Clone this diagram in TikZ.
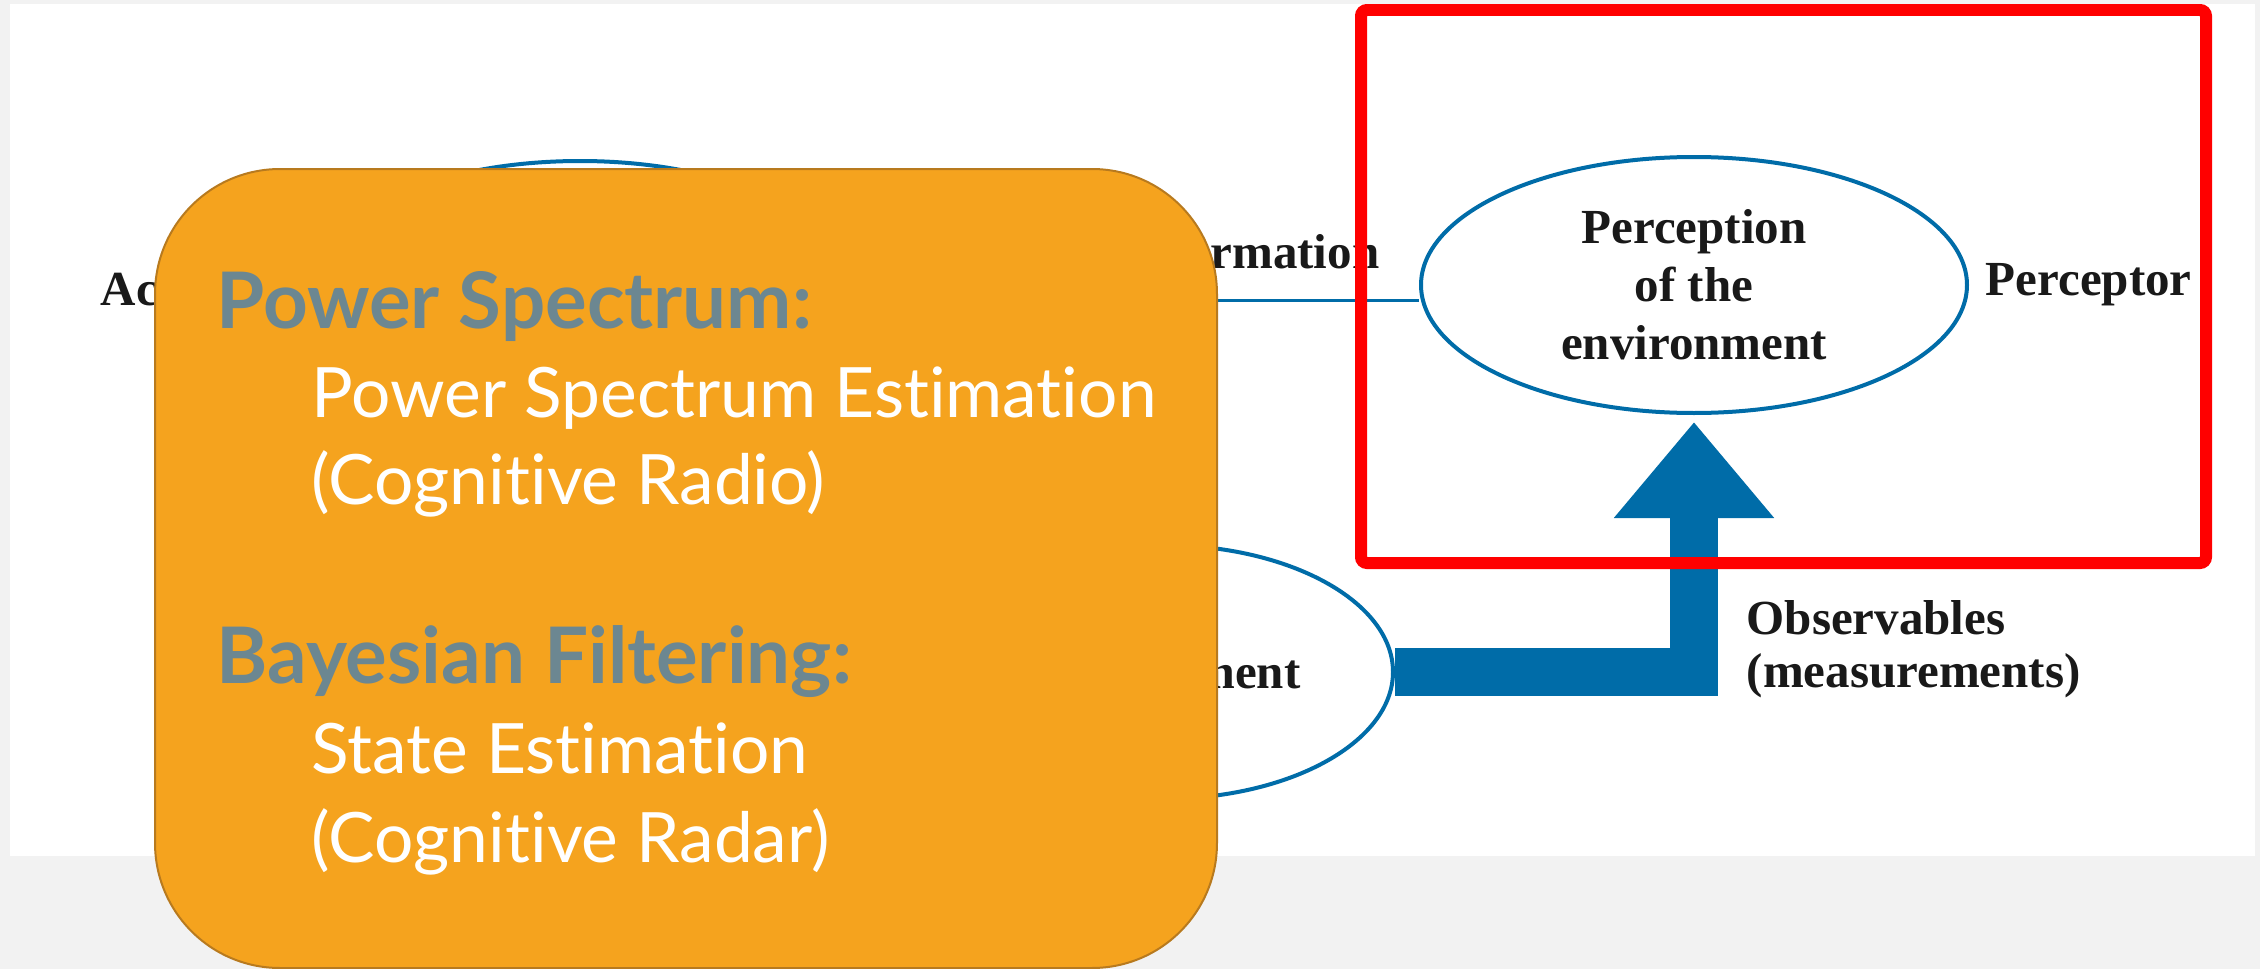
\documentclass[tikz,border=0pt]{standalone}
\usepackage{fontspec}
\setmainfont{Liberation Serif}
\newfontfamily\cardfont[Ligatures={NoCommon,NoRare}]{Lato}
\usetikzlibrary{arrows.meta, positioning, shapes.geometric}
\definecolor{pageGray}{RGB}{242,242,242}
\definecolor{figBlue}{RGB}{0,108,168}
\definecolor{frameRed}{RGB}{255,0,0}
\definecolor{cardOrange}{RGB}{245,163,30}
\definecolor{cardEdge}{RGB}{184,122,30}
\definecolor{headGray}{RGB}{108,135,145}

\begin{document}
\begin{tikzpicture}[
  x=0.1mm, y=-0.1mm,
  oval/.style={ellipse, draw=figBlue, line width=0.4mm, inner sep=0pt, align=center, text=black!90, font=\bfseries\fontsize{4.9mm}{5.8mm}\selectfont},
  lbl/.style={inner sep=0pt, text=black!90, font=\bfseries\fontsize{4.9mm}{5.3mm}\selectfont},
  link/.style={draw=figBlue, line width=0.3mm},
  obs/.style={draw=figBlue, line width=4.8mm, shorten >=0.7mm, -{Triangle[width=15.4mm, length=9.6mm]}},
  frame/.style={draw=frameRed, line width=1.2mm, rounded corners=0.6mm},
  card/.style={rectangle, draw=cardEdge, fill=cardOrange, line width=0.2mm, rounded corners=12.5mm, minimum width=106.2mm, minimum height=79.9mm},
  head/.style={anchor=base west, inner sep=0pt, text=headGray, font=\cardfont\bfseries\fontsize{7.8mm}{8.9mm}\selectfont},
  item/.style={anchor=base west, inner sep=0pt, text=white, font=\cardfont\fontsize{6.95mm}{8.9mm}\selectfont}
]
\useasboundingbox (0,0) rectangle (2260,969);
\fill[pageGray] (0,0) rectangle (2260,969);
\fill[white] (10,4) rectangle (2255,856);

\node[oval, minimum width=54.6mm, minimum height=25.6mm] (act) at (580,289) {};
\node[oval, minimum width=54.6mm, minimum height=25.6mm] (perc) at (1694,285) {Perception\\of the\\environment};
\node[oval, minimum width=46.2mm, minimum height=25.4mm] (env) at (1162,672) {Environment};
\node[lbl, right=1.6mm of perc] (perceptor) {Perceptor};
\node[lbl, anchor=base west] (actuator) at (100,305) {Actuator};
\node[lbl, anchor=base east] (feedback) at (1380,268) {Feedback information};
\node[lbl, anchor=north west, align=left] (observ) at (1746,600) {Observables\\(measurements)};

\coordinate (fbIn) at ([yshift=-1.5mm]perc.west);
\draw[link] (act.east |- fbIn) -- (fbIn);
\draw[obs] (env.east) -| (perc.south);

\draw[frame] (1361,10) rectangle (2206,563);

\node[card] (card) at (686,568.5) {};
\node[head] (psHead) at (216,328) {Power Spectrum:};
\node[item] (psEst) at (311,417) {Power Spectrum Estimation};
\node[item] (psApp) at (311,504) {(Cognitive Radio)};
\node[head] (bfHead) at (216,683) {Bayesian Filtering:};
\node[item] (bfEst) at (311,773) {State Estimation};
\node[item] (bfApp) at (311,862) {(Cognitive Radar)};
\end{tikzpicture}
\end{document}
